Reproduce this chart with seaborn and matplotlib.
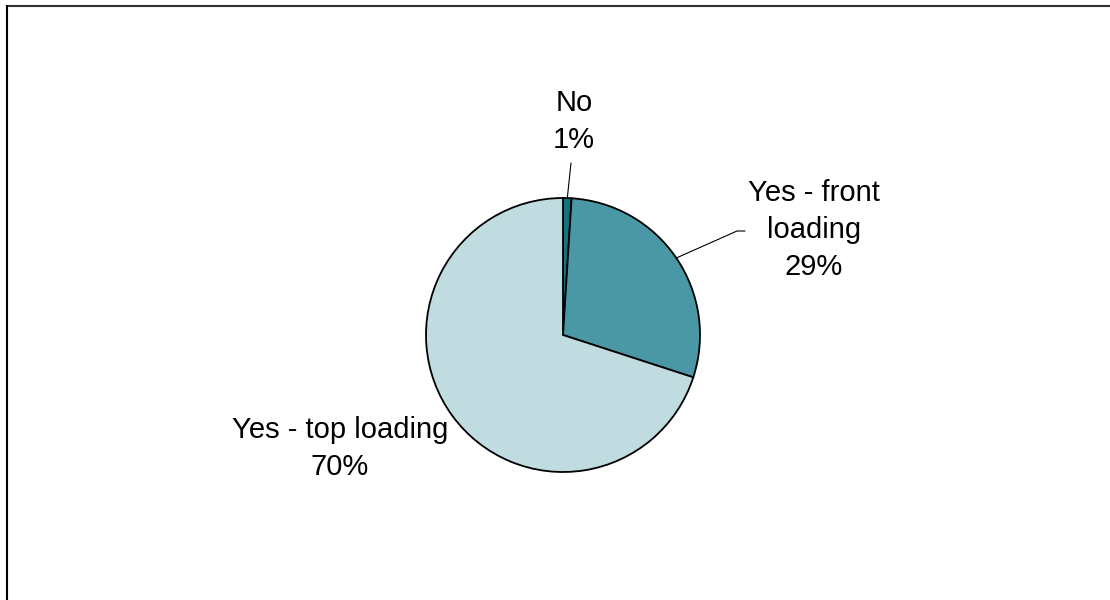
import numpy as np
import matplotlib
matplotlib.use("Agg")
import matplotlib.pyplot as plt
import seaborn as sns

# Survey answers, clockwise from 12 o'clock
categories = ["No", "Yes - front loading", "Yes - top loading"]
shares = [1, 29, 70]
label_texts = ["No\n1%", "Yes - front\nloading\n29%", "Yes - top loading\n70%"]
slice_colors = ["#17707F", "#4A98A5", "#C0DCE0"]

sns.set_theme(style="white")
plt.rcParams["font.family"] = ["Liberation Sans", "DejaVu Sans"]

W, H = 1110, 600
fig = plt.figure(figsize=(W / 100, H / 100), dpi=100)
ax = fig.add_axes([0, 0, 1, 1])

cx, cy, r = 563, H - 335, 137
wedges, _ = ax.pie(
    shares,
    colors=slice_colors,
    startangle=90,
    counterclock=False,
    center=(cx, cy),
    radius=r,
    wedgeprops=dict(edgecolor="black", linewidth=1.3),
    frame=True,
)
ax.set_xlim(0, W)
ax.set_ylim(0, H)
ax.set_aspect("equal")
ax.axis("off")

# label placement (x, y of text block centre, in pixels from top-left)
label_pos = [(574, 121.5), (814, 230), (340, 448.5)]
fs = 21
for w, txt, (lx, ly) in zip(wedges, label_texts, label_pos):
    ax.text(lx, H - ly, txt, ha="center", va="center", fontsize=fs,
            color="black", linespacing=1.43)

# leader lines from the wedge mid-angle on the rim to the label
def rim_point(w):
    ang = np.deg2rad((w.theta1 + w.theta2) / 2)
    return cx + r * np.cos(ang), cy + r * np.sin(ang)

px, py = rim_point(wedges[0])
ax.plot([571, px], [H - 163, py], color="black", lw=0.8)
px, py = rim_point(wedges[1])
ax.plot([745, 737, px], [H - 231, H - 231, py], color="black", lw=0.8)

# outer frame (top and left edges)
ax.plot([7, W], [H - 5.5, H - 5.5], color="#333333", lw=1.5, solid_capstyle="butt")
ax.plot([7, 7], [H - 5, 0], color="black", lw=1.5, solid_capstyle="butt")

fig.savefig("out.png", dpi=100, facecolor="white")
